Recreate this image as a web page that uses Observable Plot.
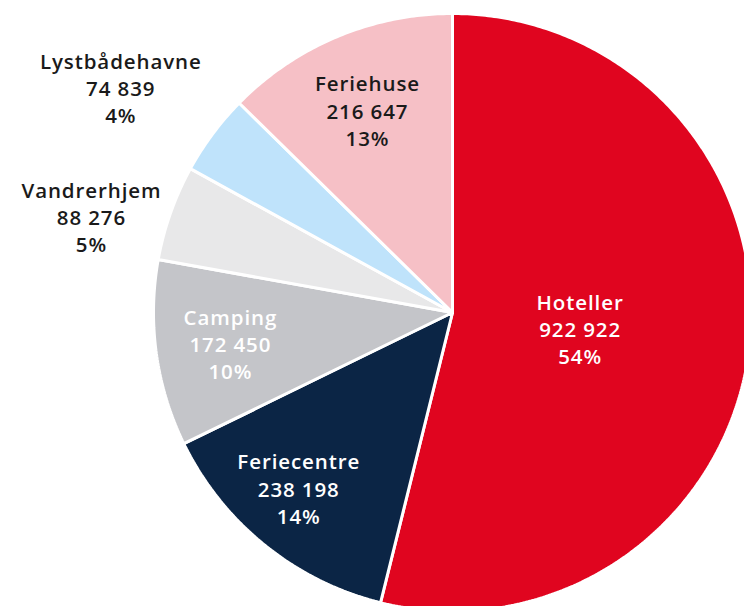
<!DOCTYPE html>
<html>
<head>
<meta charset="utf-8">
<script src="https://cdn.jsdelivr.net/npm/d3@7"></script>
<script src="https://cdn.jsdelivr.net/npm/@observablehq/plot@0.6"></script>
<style>
  html, body { margin: 0; padding: 0; background: #fff; }
  #chart { width: 744px; height: 606px; overflow: hidden; }
  #chart svg text { letter-spacing: 0.9px; }
</style>
</head>
<body>
<div id="chart"></div>
<script>
// ---- data ----
const categories = ["Hoteller", "Feriecentre", "Camping", "Vandrerhjem", "Lystbådehavne", "Feriehuse"];
const values = [922922, 238198, 172450, 88276, 74839, 216647];
const percentLabels = ["54%", "14%", "10%", "5%", "4%", "13%"];

// ---- styles / layout ----
const sliceColors = ["#e0051f", "#0b2545", "#c4c5c9", "#e8e8e9", "#bfe3fb", "#f6c0c6"];
const textColors = ["#ffffff", "#ffffff", "#ffffff", "#1a1a1a", "#1a1a1a", "#1a1a1a"];
const labelLayout = {
  "Hoteller": {r: 0.43, da: 0},
  "Feriecentre": {r: 0.78, da: 2.3},
  "Camping": {r: 0.75, da: 0},
  "Vandrerhjem": {r: 1.25, da: -4.5},
  "Lystbådehavne": {r: 1.34, da: -2.5},
  "Feriehuse": {r: 0.735, da: 0}
};

const W = 744, H = 606;
const cx = 452, cy = 312, R = 299;

const fmt = v => d3.format(",")(v).replace(/,/g, " ");

const arcs = d3.pie().sort(null).value(d => d.value)(
  categories.map((c, i) => ({category: c, value: values[i], i}))
);

// slice outlines as polygons (center -> arc -> center)
const slicePts = [];
arcs.forEach(a => {
  const n = Math.max(2, Math.ceil((a.endAngle - a.startAngle) / 0.01));
  slicePts.push({category: a.data.category, x: 0, y: 0});
  for (let k = 0; k <= n; k++) {
    const t = a.startAngle + (a.endAngle - a.startAngle) * k / n;
    slicePts.push({category: a.data.category, x: Math.sin(t), y: Math.cos(t)});
  }
  slicePts.push({category: a.data.category, x: 0, y: 0});
});

const labels = arcs.map(a => {
  const c = a.data.category;
  const L = labelLayout[c];
  const m = (a.startAngle + a.endAngle) / 2 + L.da * Math.PI / 180;
  return {
    category: c,
    x: L.r * Math.sin(m),
    y: L.r * Math.cos(m),
    text: `${c}\n${fmt(a.data.value)}\n${percentLabels[a.data.i]}`,
    color: textColors[a.data.i]
  };
});

const chart = Plot.plot({
  width: W,
  height: H,
  margin: 0,
  x: {domain: [-cx / R, (W - cx) / R], axis: null},
  y: {domain: [-(H - cy) / R, cy / R], axis: null},
  color: {domain: categories, range: sliceColors},
  style: {background: "#fff"},
  marks: [
    Plot.line(slicePts, {
      x: "x", y: "y", z: "category",
      fill: "category",
      stroke: "#ffffff",
      strokeWidth: 3,
      strokeLinejoin: "miter"
    }),
    Plot.text(labels, {
      x: "x", y: "y", text: "text",
      fill: d => d.color,
      fontSize: 20.5,
      fontWeight: 600,
      lineHeight: 1.32,
      fontFamily: "'Open Sans', sans-serif"
    })
  ]
});

document.getElementById("chart").appendChild(chart);
</script>
</body>
</html>
